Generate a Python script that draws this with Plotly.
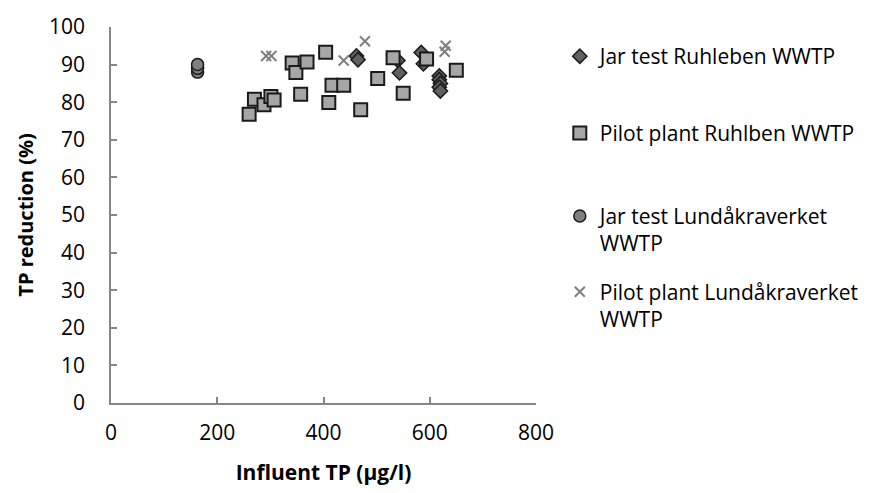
import plotly.graph_objects as go

# Data
jar_ruh_x = [462, 465, 540, 543, 584, 588, 618, 618, 620, 618, 620]
jar_ruh_y = [92.3, 91.3, 91.1, 87.8, 93.2, 90.2, 87.0, 86.0, 85.0, 84.0, 83.0]

pilot_ruh_x = [260, 270, 288, 301, 307, 341, 348, 357, 369, 404, 410, 416, 438, 470, 502, 531, 550, 594, 650]
pilot_ruh_y = [76.8, 80.8, 79.3, 81.5, 80.6, 90.4, 87.9, 82.1, 90.7, 93.3, 79.9, 84.5, 84.5, 78.0, 86.3, 91.8, 82.4, 91.5, 88.5]

jar_lund_x = [163, 163, 163]
jar_lund_y = [88.0, 89.0, 90.0]

pilot_lund_x = [292, 302, 438, 478, 628, 630]
pilot_lund_y = [92.3, 92.3, 91.1, 96.2, 93.4, 95.0]

names = ["Jar test Ruhleben WWTP", "Pilot plant Ruhlben WWTP",
         "Jar test Lundåkraverket<br>WWTP", "Pilot plant Lundåkraverket<br>WWTP"]

FONT = "Open Sans"

fig = go.Figure()
fig.add_trace(go.Scatter(x=jar_ruh_x, y=jar_ruh_y, mode="markers", name=names[0],
                         legend="legend",
                         marker=dict(symbol="diamond", size=11, color="#606060",
                                     line=dict(color="#1a1a1a", width=1.5))))
fig.add_trace(go.Scatter(x=pilot_ruh_x, y=pilot_ruh_y, mode="markers", name=names[1],
                         legend="legend2",
                         marker=dict(symbol="square", size=13, color="#a6a6a6",
                                     line=dict(color="#1a1a1a", width=2))))
fig.add_trace(go.Scatter(x=jar_lund_x, y=jar_lund_y, mode="markers", name=names[2],
                         legend="legend3",
                         marker=dict(symbol="circle", size=12, color="#7f7f7f",
                                     line=dict(color="#1a1a1a", width=1.5))))
fig.add_trace(go.Scatter(x=pilot_lund_x, y=pilot_lund_y, mode="markers", name=names[3],
                         legend="legend4",
                         marker=dict(symbol="x-thin", size=10, color="#7f7f7f",
                                     line=dict(color="#7f7f7f", width=2))))

axis_common = dict(showgrid=False, zeroline=False, showline=True, linecolor="#868686",
                   linewidth=1.5, ticks="inside", ticklen=6, tickcolor="#868686",
                   tickwidth=1.5, tickfont=dict(family=FONT, size=21, color="#000000"))

# plot area in pixels: x 111..539, y 21..403
def ly(px):
    return (403 - px) / 382.0

leg_common = dict(x=1.056, xanchor="left", yanchor="middle", valign="top",
                  font=dict(family=FONT, size=21, color="#000"), itemwidth=30,
                  bgcolor="rgba(0,0,0,0)")

fig.update_layout(
    width=876, height=493,
    margin=dict(l=111, r=337, t=21, b=90),
    paper_bgcolor="white", plot_bgcolor="white",
    xaxis=dict(range=[0, 800], dtick=200, ticklabelstandoff=10,
               title=dict(text="<b>Influent TP (µg/l)</b>", font=dict(family=FONT, size=21, color="#000"),
                          standoff=20),
               **axis_common),
    yaxis=dict(range=[0, 100], dtick=10, ticklabelstandoff=20,
               title=dict(text="<b>TP reduction (%)</b>", font=dict(family=FONT, size=20, color="#000"),
                          standoff=10),
               **axis_common),
    showlegend=True,
    legend=dict(y=ly(51), **leg_common),
    legend2=dict(y=ly(129), **leg_common),
    legend3=dict(y=ly(227), **leg_common),
    legend4=dict(y=ly(304), **leg_common),
)

fig.write_html("out.html")
